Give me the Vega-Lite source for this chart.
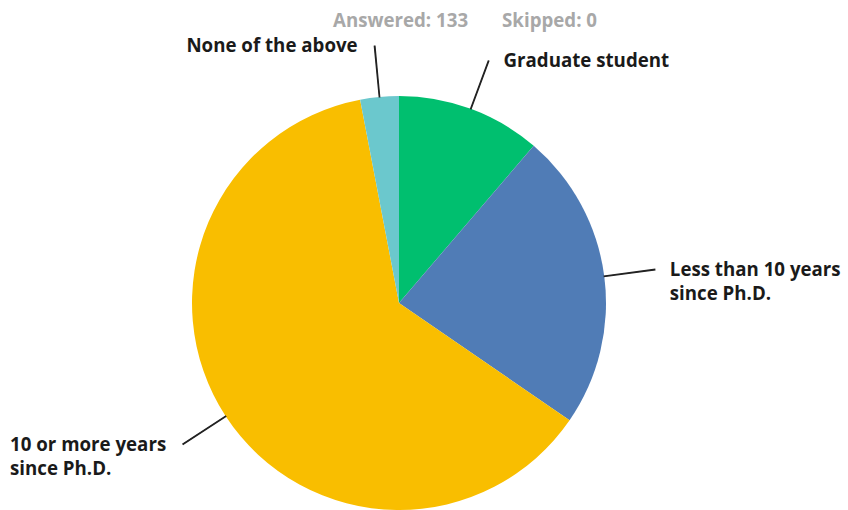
{
  "$schema": "https://vega.github.io/schema/vega-lite/v6.json",
  "width": 798,
  "height": 414,
  "autosize": {"type": "none"},
  "padding": {"left": 0, "top": 96, "right": 50, "bottom": 0},
  "background": "white",
  "title": {
    "text": "Answered: 133\u00a0\u00a0\u00a0\u00a0\u00a0\u00a0\u00a0Skipped: 0",
    "anchor": "middle",
    "frame": "group",
    "dx": 66,
    "offset": 6,
    "font": "Open Sans",
    "fontSize": 18.7,
    "fontWeight": "bold",
    "color": "#A8A8A8"
  },
  "config": {"view": {"stroke": null}},
  "data": {
    "values": [
      {"answer": "Graduate student", "label": "Graduate student", "count": 15, "rank": 1},
      {"answer": "Less than 10 years since Ph.D.", "label": "Less than 10 years\nsince Ph.D.", "count": 31, "rank": 2},
      {"answer": "10 or more years since Ph.D.", "label": "10 or more years\nsince Ph.D.", "count": 83, "rank": 3},
      {"answer": "None of the above", "label": "None of the above", "count": 4, "rank": 4}
    ]
  },
  "transform": [
    {"window": [{"op": "sum", "field": "count", "as": "cum"}], "sort": [{"field": "rank"}], "frame": [null, 0]},
    {"calculate": "datum.cum - datum.count / 2", "as": "mid"},
    {"calculate": "datum.mid - 0.03", "as": "mid0"},
    {"calculate": "datum.mid + 0.03", "as": "mid1"}
  ],
  "layer": [
    {
      "mark": {"type": "arc", "radius": 207},
      "encoding": {
        "theta": {"field": "count", "type": "quantitative", "stack": true, "scale": {"domain": [0, 133], "nice": false, "zero": true}},
        "order": {"field": "rank", "type": "quantitative"},
        "color": {
          "field": "answer",
          "type": "nominal",
          "scale": {
            "domain": ["Graduate student", "Less than 10 years since Ph.D.", "10 or more years since Ph.D.", "None of the above"],
            "range": ["#00BF6F", "#507CB6", "#F9BE00", "#6BC8CD"]
          },
          "legend": null
        }
      }
    },
    {
      "mark": {"type": "arc", "radius": 258, "radius2": 207, "fill": "#222222", "stroke": "#222222", "strokeWidth": 1.2},
      "encoding": {
        "theta": {"field": "mid0", "type": "quantitative", "stack": null},
        "theta2": {"field": "mid1"}
      }
    },
    {
      "transform": [{"filter": "datum.rank <= 2"}],
      "mark": {"type": "text", "radius": 258, "align": "left", "baseline": "top", "dx": 15, "dy": -9, "lineBreak": "\n", "lineHeight": 24, "font": "Open Sans", "fontSize": 18.7, "fontWeight": "bold", "color": "#1a1a1a"},
      "encoding": {
        "theta": {"field": "mid", "type": "quantitative", "stack": null},
        "text": {"field": "label"}
      }
    },
    {
      "transform": [{"filter": "datum.rank == 4"}],
      "mark": {"type": "text", "radius": 258, "align": "right", "baseline": "top", "dx": -17, "dy": -9, "lineBreak": "\n", "lineHeight": 24, "font": "Open Sans", "fontSize": 18.7, "fontWeight": "bold", "color": "#1a1a1a"},
      "encoding": {
        "theta": {"field": "mid", "type": "quantitative", "stack": null},
        "text": {"field": "label"}
      }
    },
    {
      "transform": [{"filter": "datum.rank == 3"}],
      "mark": {"type": "text", "radius": 258, "align": "left", "baseline": "top", "dx": -173, "dy": -8, "lineBreak": "\n", "lineHeight": 24, "font": "Open Sans", "fontSize": 18.7, "fontWeight": "bold", "color": "#1a1a1a"},
      "encoding": {
        "theta": {"field": "mid", "type": "quantitative", "stack": null},
        "text": {"field": "label"}
      }
    }
  ]
}
